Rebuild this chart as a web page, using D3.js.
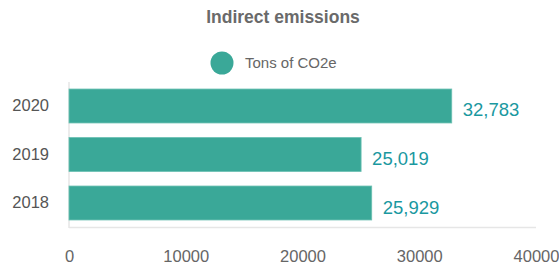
<!DOCTYPE html>
<html lang="en">
<head>
<meta charset="UTF-8">
<script src="https://d3js.org/d3.v7.min.js"></script>
<title>Indirect emissions</title>
<style>
  body { margin: 0; background: #fff; }
  text { font-family: "Liberation Sans", Arial, sans-serif; }
</style>
</head>
<body>
<svg id="chart" width="559" height="264"></svg>
<script>
// data
var years = ["2020", "2019", "2018"];
var tons = [32783, 25019, 25929];
var xTicks = [0, 10000, 20000, 30000, 40000];

var svg = d3.select("#chart");

var x = d3.scaleLinear().domain([0, 40000]).range([69, 536]);
var y = d3.scaleBand().domain(years).range([80, 229]).paddingInner(0.3).paddingOuter(0.186);

// title
svg.append("text")
    .attr("x", 283).attr("y", 23)
    .attr("text-anchor", "middle")
    .attr("font-size", 17.5).attr("font-weight", "bold")
    .attr("fill", "#6a6a6a")
    .text("Indirect emissions");

// legend
svg.append("circle").attr("cx", 222).attr("cy", 63).attr("r", 11.5).attr("fill", "#3aa898");
svg.append("text")
    .attr("x", 245).attr("y", 68)
    .attr("font-size", 15).attr("fill", "#666")
    .text("Tons of CO2e");

// axis lines
svg.append("line")
    .attr("x1", x(0)).attr("x2", x(0)).attr("y1", 82).attr("y2", 228)
    .attr("stroke", "#e6e6e6").attr("stroke-width", 1.5);
svg.append("line")
    .attr("x1", x(0)).attr("x2", x(40000)).attr("y1", 227.5).attr("y2", 227.5)
    .attr("stroke", "#e6e6e6").attr("stroke-width", 1.5);

// x tick labels
var xAxis = svg.append("g")
    .attr("transform", "translate(0,247)")
    .call(d3.axisBottom(x).tickValues(xTicks).tickSize(0).tickFormat(d3.format("d")));
xAxis.select(".domain").remove();
xAxis.selectAll("text").attr("font-size", 16.5).attr("fill", "#666")
    .attr("font-family", "'Liberation Sans', Arial, sans-serif");

// y tick labels
var yAxis = svg.append("g")
    .attr("transform", "translate(49,0)")
    .call(d3.axisLeft(y).tickSize(0).tickPadding(0));
yAxis.select(".domain").remove();
yAxis.selectAll("text").attr("font-size", 16.5).attr("fill", "#555")
    .attr("font-family", "'Liberation Sans', Arial, sans-serif");

// bars
svg.selectAll("rect.bar")
    .data(years)
    .enter().append("rect")
    .attr("class", "bar")
    .attr("x", x(0))
    .attr("y", function(d) { return y(d); })
    .attr("width", function(d, i) { return x(tons[i]) - x(0); })
    .attr("height", y.bandwidth())
    .attr("fill", "#3aa898")
    .attr("stroke", "#6cc0b2").attr("stroke-width", 0.8);

// value labels
svg.selectAll("text.val")
    .data(years)
    .enter().append("text")
    .attr("class", "val")
    .attr("x", function(d, i) { return x(tons[i]) + 11; })
    .attr("y", function(d) { return y(d) + y.bandwidth() / 2 + 10.5; })
    .attr("font-family", "Roboto, sans-serif")
    .attr("font-size", 18.5).attr("font-weight", 500)
    .attr("fill", "#1a98a0")
    .text(function(d, i) { return d3.format(",")(tons[i]); });
</script>
</body>
</html>
